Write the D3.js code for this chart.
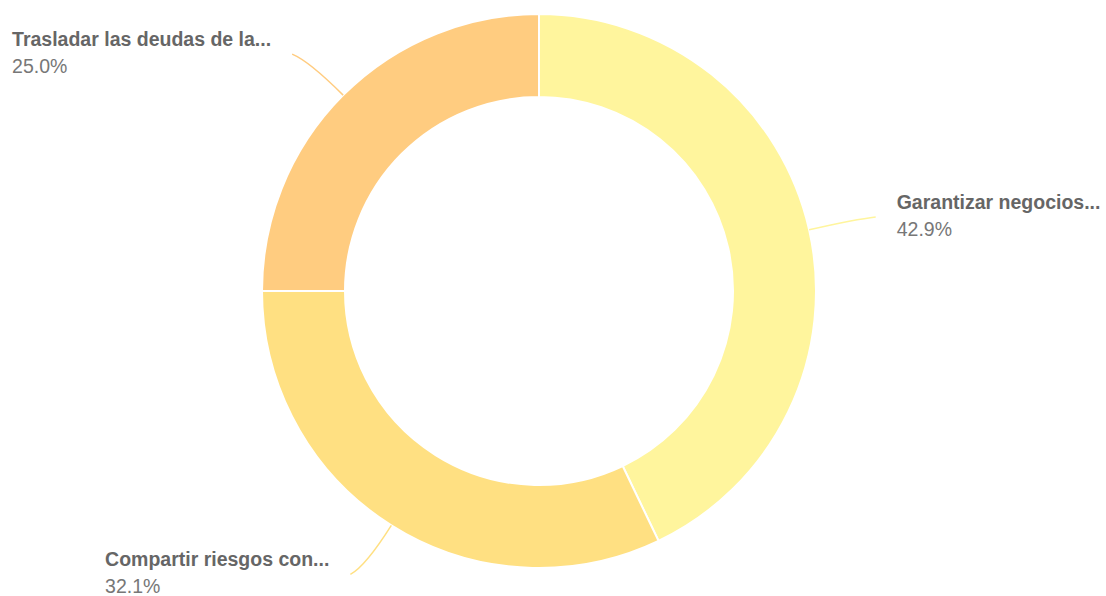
<!DOCTYPE html>
<html>
<head>
<meta charset="utf-8">
<script src="https://cdn.jsdelivr.net/npm/d3@7"></script>
<style>
  body { margin: 0; background: #fff; }
  svg { display: block; font-family: "Liberation Sans", Arial, sans-serif; }
</style>
</head>
<body>
<div id="chart"></div>
<script>
// data
var labels = ["Garantizar negocios...", "Compartir riesgos con...", "Trasladar las deudas de la..."];
var values = [42.9, 32.1, 25.0];
var colors = ["#FFF59D", "#FFE082", "#FFCC80"];

function main() {
    var data = labels.map(function(l, i) {
        return { label: l, value: values[i], color: colors[i] };
    });
    drawDonut(data);
}

function drawDonut(data) {
    const width = 1106, height = 596;
    const cx = 539, cy = 291;
    const outer = 277, inner = 194;

    const svg = d3.select("#chart")
        .append("svg")
        .attr("width", width)
        .attr("height", height);

    const g = svg.append("g")
        .attr("transform", `translate(${cx}, ${cy})`);

    const pie = d3.pie()
        .sort(null)
        .value(function(d) { return d.value; });

    const arc = d3.arc()
        .innerRadius(inner)
        .outerRadius(outer);

    const arcs = pie(data);

    g.selectAll(".slice")
        .data(arcs)
        .enter()
        .append("path")
        .attr("class", "slice")
        .attr("d", arc)
        .style("fill", function(d) { return d.data.color; })
        .style("stroke", "#fff")
        .style("stroke-width", 2);

    // point on a circle of radius r at angle a (0 = top, clockwise)
    function pt(a, r) { return [r * Math.sin(a), -r * Math.cos(a)]; }

    arcs.forEach(function(d) {
        var mid = (d.startAngle + d.endAngle) / 2;
        var right = Math.sin(mid) > 0;
        var p0 = pt(mid, outer);
        var c = pt(mid, 325);
        var p1 = pt(mid, 335);
        p1[0] += right ? 10 : -10;

        g.append("path")
            .attr("d", `M${p0[0]},${p0[1]} Q${c[0]},${c[1]} ${p1[0]},${p1[1]}`)
            .style("fill", "none")
            .style("stroke", d.data.color)
            .style("stroke-width", 1.5);

        var lab = g.append("g");
        var t1 = lab.append("text")
            .attr("y", p1[1] - 8)
            .style("font-size", "19.5px")
            .style("font-weight", "bold")
            .style("fill", "#666")
            .text(d.data.label);
        lab.append("text")
            .attr("y", p1[1] + 19)
            .style("font-size", "19.5px")
            .style("fill", "#777")
            .text(d.data.value.toFixed(1) + "%");

        var w = t1.node().getComputedTextLength();
        var x = right ? p1[0] + 21 : p1[0] - 21 - w;
        lab.attr("transform", `translate(${x}, 0)`);
    });
}

main();
</script>
</body>
</html>
